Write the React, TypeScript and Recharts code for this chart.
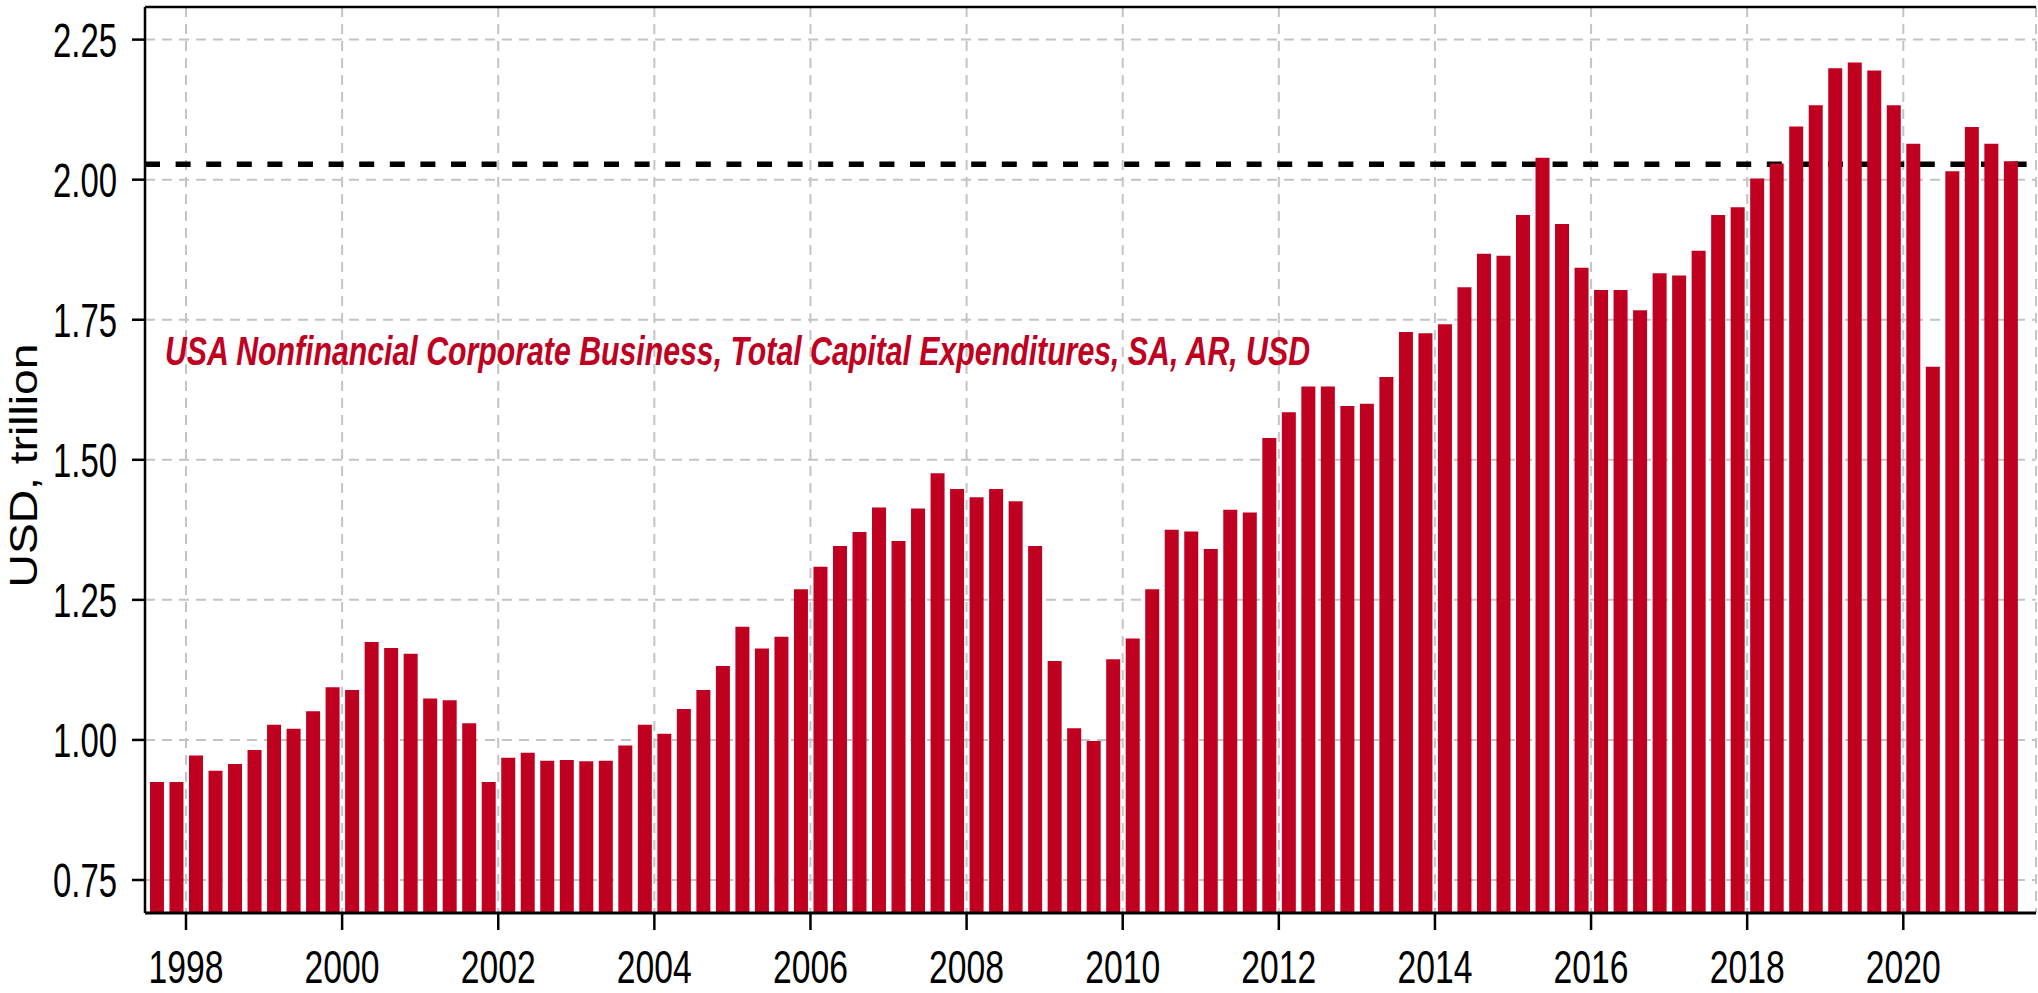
import React from 'react';
import { BarChart, Bar, XAxis, YAxis, CartesianGrid, ReferenceLine } from 'recharts';

// First bar is 1997 Q3, last is 2021 Q2 (quarterly)
const firstYear = 1997;
const firstQuarter = 3;

const capexValues: number[] = [
  0.925, 0.925, 0.972, 0.945, 0.957, 0.982, 1.027, 1.020, 1.051, 1.094,
  1.089, 1.175, 1.164, 1.154, 1.074, 1.071, 1.030, 0.925, 0.968, 0.977,
  0.963, 0.964, 0.962, 0.963, 0.990, 1.027, 1.011, 1.055, 1.089, 1.132,
  1.202, 1.163, 1.184, 1.269, 1.309, 1.346, 1.371, 1.415, 1.355, 1.413,
  1.476, 1.448, 1.433, 1.448, 1.426, 1.346, 1.141, 1.021, 0.998, 1.144,
  1.181, 1.269, 1.375, 1.372, 1.341, 1.411, 1.406, 1.539, 1.585, 1.631,
  1.631, 1.596, 1.600, 1.648, 1.728, 1.726, 1.742, 1.808, 1.868, 1.864,
  1.937, 2.039, 1.921, 1.843, 1.803, 1.803, 1.767, 1.833, 1.829, 1.873,
  1.937, 1.951, 2.002, 2.029, 2.095, 2.133, 2.199, 2.209, 2.195, 2.133,
  2.064, 1.666, 2.015, 2.094, 2.064, 2.033,
];

const quarterLabels: string[] = capexValues.map((_, i) => {
  const q0 = firstQuarter - 1 + i;
  return `${firstYear + Math.floor(q0 / 4)}Q${(q0 % 4) + 1}`;
});

const yearTicks: number[] = [1998, 2000, 2002, 2004, 2006, 2008, 2010, 2012, 2014, 2016, 2018, 2020];
const valueTicks: number[] = [0.75, 1.0, 1.25, 1.5, 1.75, 2.0, 2.25];
const referenceLevel = 2.0275;
const xDomain: [number, number] = [1997.4748, 2021.7];
const yDomain: [number, number] = [0.6911, 2.3082];

const seriesName = 'USA Nonfinancial Corporate Business, Total Capital Expenditures, SA, AR, USD';
const yAxisTitle = 'USD, trillion';

const data = quarterLabels.map((label, i) => {
  const year = parseInt(label.slice(0, 4), 10);
  const q = parseInt(label.slice(5), 10);
  return { quarter: label, t: year + (q - 1) / 4 + 0.125, value: capexValues[i] };
});

const FONT = "'Liberation Sans Narrow', 'Liberation Sans', Arial, sans-serif";
const RED = '#C00020';

const YTick = (props: any) => {
  const { x, y, payload } = props;
  return (
    <text x={x} y={y} dy={17} textAnchor="end" fontFamily={FONT} fontSize={48} fill="#000"
      textLength={64} lengthAdjust="spacingAndGlyphs">
      {Number(payload.value).toFixed(2)}
    </text>
  );
};

const XTick = (props: any) => {
  const { x, y, payload } = props;
  return (
    <text x={x} y={y} dy={53} textAnchor="middle" fontFamily={FONT} fontSize={47} fill="#000"
      textLength={75} lengthAdjust="spacingAndGlyphs">
      {String(payload.value)}
    </text>
  );
};

export default function App() {
  return (
    <div style={{ position: 'absolute', left: 0, top: 0, width: 2038, height: 993, background: '#fff' }}>
      <BarChart
        width={2038}
        height={993}
        data={data}
        margin={{ top: 7, right: 2, left: 0, bottom: 0 }}
      >
        <CartesianGrid stroke="#C4C4C4" strokeWidth={2} strokeDasharray="10 7" />
        <CartesianGrid
          vertical={false}
          horizontalValues={[referenceLevel]}
          stroke="#000"
          strokeWidth={5.5}
          strokeDasharray="15 15.6"
        />
        <XAxis
          dataKey="t"
          type="number"
          domain={xDomain}
          allowDataOverflow
          ticks={yearTicks}
          interval={0}
          height={80}
          tickSize={17}
          tickMargin={0}
          tick={<XTick />}
          axisLine={{ stroke: '#000', strokeWidth: 3 }}
          tickLine={{ stroke: '#000', strokeWidth: 2.5 }}
        />
        <YAxis
          type="number"
          domain={yDomain}
          allowDataOverflow
          ticks={valueTicks}
          interval={0}
          width={145}
          tickSize={13}
          tickMargin={15}
          tick={<YTick />}
          axisLine={{ stroke: '#000', strokeWidth: 2.5 }}
          tickLine={{ stroke: '#000', strokeWidth: 2.5 }}
        />
        <ReferenceLine y={yDomain[1]} stroke="#000" strokeWidth={2.5} />
        <Bar dataKey="value" name={seriesName} fill={RED} barSize={14} isAnimationActive={false} />
      </BarChart>
      <svg width={2038} height={993} style={{ position: 'absolute', left: 0, top: 0, pointerEvents: 'none' }}>
        <text x={165} y={365} fontFamily={FONT} fontStyle="italic" fontWeight={700} fontSize={41} fill={RED}
          textLength={1145} lengthAdjust="spacingAndGlyphs">
          {seriesName}
        </text>
        <text transform="translate(36.5, 465.5) rotate(-90)" textAnchor="middle" fontFamily={FONT} fontSize={39}
          fill="#000" textLength={244} lengthAdjust="spacingAndGlyphs">
          {yAxisTitle}
        </text>
      </svg>
    </div>
  );
}
